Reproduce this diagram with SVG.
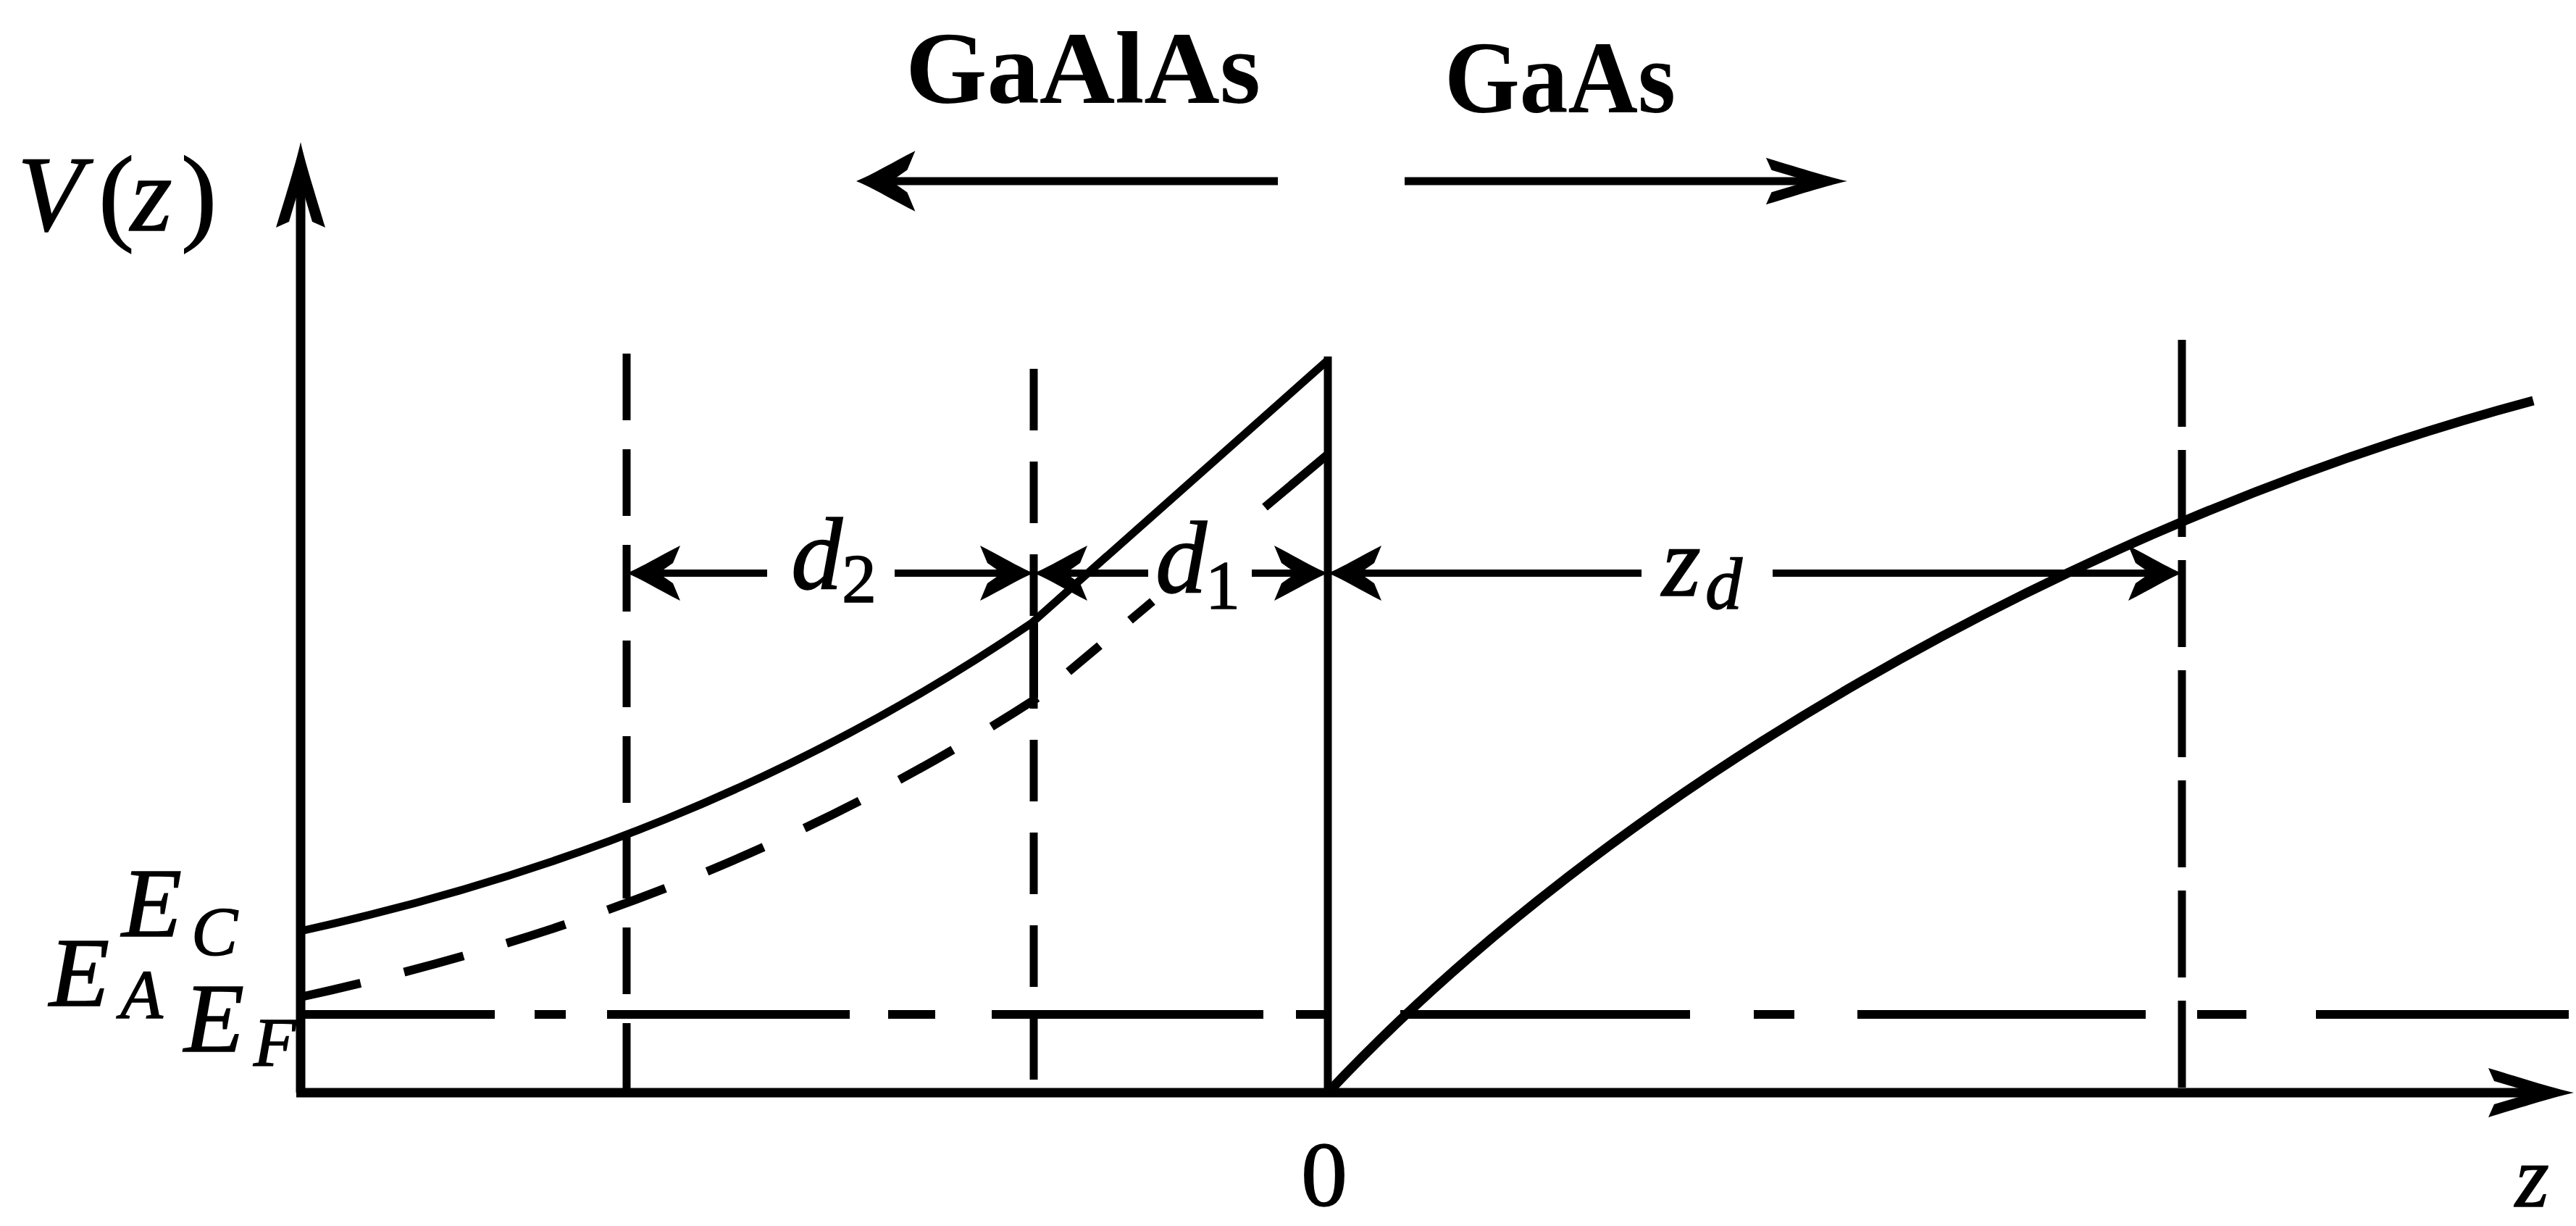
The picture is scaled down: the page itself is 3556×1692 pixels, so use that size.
<svg xmlns="http://www.w3.org/2000/svg" xmlns:xlink="http://www.w3.org/1999/xlink" width="3556" height="1692" viewBox="0 0 3556 1692">
<style>
  .ln{fill:none;stroke:#000;stroke-linecap:butt;stroke-linejoin:round}
  .axis{stroke-width:13}
  .curve{stroke-width:11}
  .vd{stroke-width:11}
  .dim{stroke-width:10}
  .hd{fill:#000}
  .m{font-family:"Liberation Serif","Times New Roman",serif;font-style:italic;fill:#000;stroke:#000;stroke-width:1.5}
  .r{font-family:"Liberation Serif","Times New Roman",serif;font-style:normal;fill:#000;stroke:#000;stroke-width:1.5}
  .b{font-family:"Liberation Serif","Times New Roman",serif;font-weight:bold;fill:#000}
</style>
<defs>
  <path id="ah" d="M0,0 C-20,-8 -46,-24 -74,-38 L-64,-14 L-44,0 L-64,14 L-74,38 C-46,24 -20,8 0,0 Z"/>
  <path id="ax" d="M0,0 C-28,-6 -85,-24 -118,-34 L-110,-16 L-56,0 L-110,16 L-118,34 C-85,24 -28,6 0,0 Z"/>
</defs>
<rect width="3556" height="1692" fill="#fff"/>

<g id="axes">
  <path class="ln axis" d="M415,1508 V230"/>
  <use href="#ax" class="hd" transform="translate(415,196) rotate(-90)"/>
  <path class="ln axis" d="M409,1508 H3510"/>
  <use href="#ax" class="hd" transform="translate(3553,1508)"/>
</g>

<g id="fermi-level">
  <path class="ln" stroke-width="12" d="M415,1400 H683 M738,1400 H781 M838,1400 H1173 M1226,1400 H1291 M1369,1400 H1744 M1789,1400 H1831 M1933,1400 H2333 M2421,1400 H2477 M2564,1400 H2962 M3033,1400 H3101 M3197,1400 H3546"/>
</g>

<g id="boundaries">
  <path class="ln vd" stroke-dasharray="92 40" d="M865,488 V1508"/>
  <path class="ln vd" stroke-dasharray="85 43" d="M1427,509 V1508"/>
  <path class="ln vd" stroke-dasharray="120 32" d="M3012,469 V1508"/>
  <path class="ln curve" d="M1833,492 V1508"/>
</g>

<g id="conduction-band">
  <path class="ln curve" d="M415,1285 C751,1211 1088,1088 1424,860 L1833,497"/>
</g>

<g id="acceptor-level">
  <path class="ln" stroke-width="12" stroke-dasharray="85 62" d="M415,1376 C754,1301 1093,1183 1432,963"/>
  <path class="ln" stroke-width="12" d="M1427,963 V860 M1475,927 L1518,891 M1560,856 L1591,830 M1746,700 L1833,627"/>
</g>

<g id="gaas-band">
  <path class="ln" stroke-width="13" d="M1833,1508 C2219,1097 2853,725 3497,553"/>
</g>

<g id="connectors">
  <path class="ln" stroke-width="11" d="M1764,250 H1215"/>
  <use href="#ah" class="hd" transform="translate(1182,250) rotate(180) scale(1.1)"/>
  <path class="ln" stroke-width="11" d="M1939,250 H2510"/>
  <use href="#ax" class="hd" transform="translate(2550,250) scale(0.95)"/>

  <path class="ln dim" d="M895,791 H1059 M1235,791 H1397 M1457,791 H1585 M1728,791 H1803 M1863,791 H2266 M2447,791 H2982"/>
  <use href="#ah" class="hd" transform="translate(865,791) rotate(180)"/>
  <use href="#ah" class="hd" transform="translate(1427,791)"/>
  <use href="#ah" class="hd" transform="translate(1427,791) rotate(180)"/>
  <use href="#ah" class="hd" transform="translate(1833,791)"/>
  <use href="#ah" class="hd" transform="translate(1833,791) rotate(180)"/>
  <use href="#ah" class="hd" transform="translate(3012,791)"/>
</g>

<g id="labels">
  <text class="b" x="1250" y="142" font-size="142" textLength="490" lengthAdjust="spacingAndGlyphs">GaAlAs</text>
  <text class="b" x="1994" y="155" font-size="142" textLength="319" lengthAdjust="spacingAndGlyphs">GaAs</text>
  <text class="m" x="24" y="318" font-size="148">V<tspan class="r" x="136">(</tspan><tspan x="180">z</tspan><tspan class="r" x="250">)</tspan></text>
  <text class="m" x="168" y="1292" font-size="136">E<tspan x="264" y="1318" font-size="96">C</tspan></text>
  <text class="m" x="68" y="1388" font-size="136">E<tspan x="166" y="1405" font-size="96">A</tspan></text>
  <text class="m" x="254" y="1451" font-size="136">E<tspan x="350" y="1471" font-size="96">F</tspan></text>
  <text class="m" x="1092" y="813" font-size="142">d<tspan class="r" x="1162" y="831" font-size="96">2</tspan></text>
  <text class="m" x="1595" y="818" font-size="142">d<tspan class="r" x="1664" y="840" font-size="96">1</tspan></text>
  <text class="m" x="2294" y="822" font-size="138">z<tspan x="2354" y="840" font-size="102">d</tspan></text>
  <text class="r" x="1828" y="1664" font-size="128" text-anchor="middle">0</text>
  <text class="m" x="3472" y="1665" font-size="120">z</text>
</g>
</svg>
